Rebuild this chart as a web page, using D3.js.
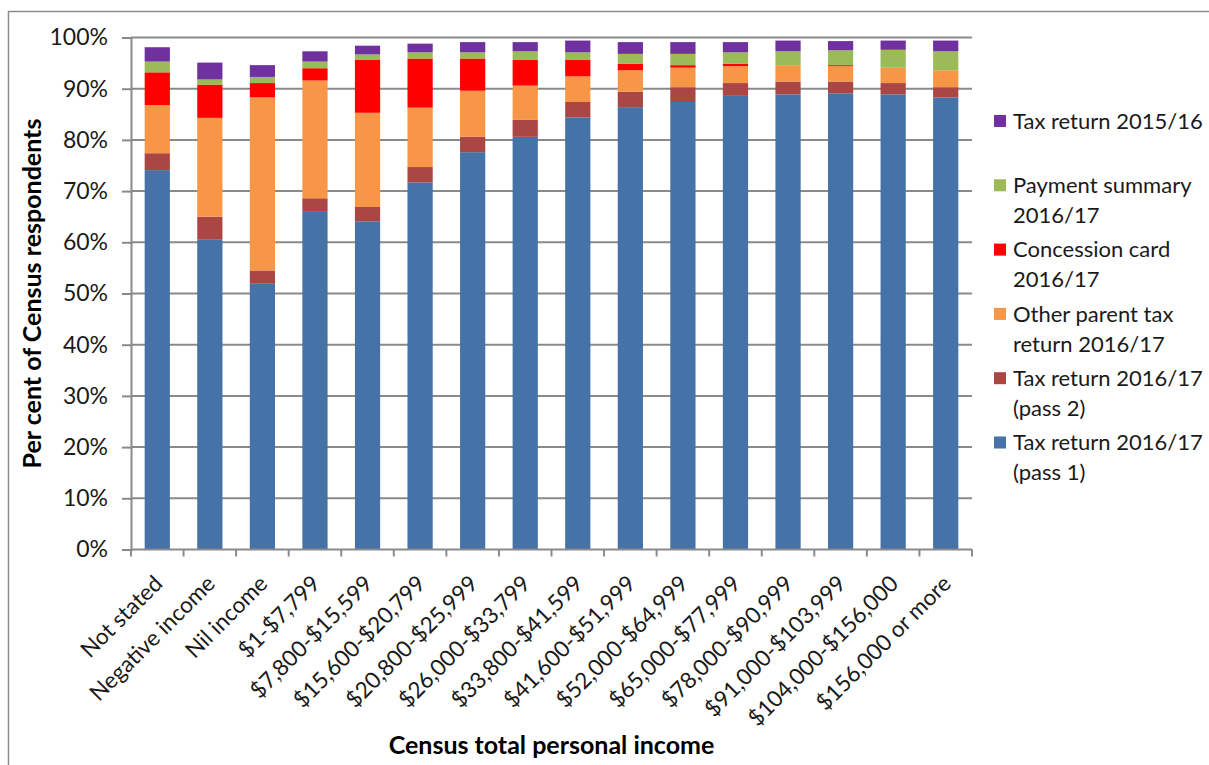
<!DOCTYPE html>
<html><head><meta charset="utf-8">
<script src="https://cdn.jsdelivr.net/npm/d3@7"></script>
<style>
html,body{margin:0;padding:0;background:#fff;}
svg{display:block;font-family:Lato,"Open Sans",sans-serif;}
</style></head>
<body>
<svg id="chart" width="1209" height="765"></svg>
<script>
const categories = ["Not stated","Negative income","Nil income","$1-$7,799","$7,800-$15,599","$15,600-$20,799","$20,800-$25,999","$26,000-$33,799","$33,800-$41,599","$41,600-$51,999","$52,000-$64,999","$65,000-$77,999","$78,000-$90,999","$91,000-$103,999","$104,000-$156,000","$156,000 or more"];
const seriesNames = ["Tax return 2016/17 (pass 1)","Tax return 2016/17 (pass 2)","Other parent tax return 2016/17","Concession card 2016/17","Payment summary 2016/17","Tax return 2015/16"];
const pass1   = [74.1,60.5,51.9,66.1,64.1,71.7,77.6,80.6,84.4,86.4,87.4,88.6,88.9,89.1,88.9,88.3];
const pass2   = [3.3,4.5,2.6,2.5,2.8,3.0,3.0,3.3,3.0,3.0,2.9,2.5,2.5,2.3,2.2,2.0];
const otherParent = [9.4,19.3,33.8,23.0,18.4,11.6,9.0,6.7,5.0,4.2,3.8,3.3,3.2,3.0,3.0,3.3];
const concession  = [6.4,6.5,2.8,2.4,10.3,9.6,6.3,5.0,3.2,1.3,0.5,0.5,0.0,0.2,0.0,0.0];
const paymentSummary = [2.1,1.0,1.2,1.3,1.1,1.2,1.2,1.7,1.5,1.9,2.2,2.2,2.7,2.9,3.5,3.7];
const taxReturn1516  = [2.8,3.3,2.3,2.0,1.7,1.7,2.0,1.8,2.3,2.3,2.3,2.0,2.1,1.8,1.8,2.1];
const yTicks = [0,10,20,30,40,50,60,70,80,90,100];
const legendLines = [["Tax return 2015/16"],["Payment summary","2016/17"],["Concession card","2016/17"],["Other parent tax","return 2016/17"],["Tax return 2016/17","(pass 2)"],["Tax return 2016/17","(pass 1)"]];
const colors = ["#4572A7","#AA4643","#F79646","#FF0000","#9BBB59","#7030A0"];
const legendColors = ["#7030A0","#9BBB59","#FF0000","#F79646","#AA4643","#4572A7"];

const seriesValues = [pass1,pass2,otherParent,concession,paymentSummary,taxReturn1516];
const rows = categories.map((c,i)=>{const r={cat:c}; seriesNames.forEach((s,k)=>r[s]=seriesValues[k][i]); return r;});
const stack = d3.stack().keys(seriesNames)(rows);

const svg = d3.select("#chart");
const pL=131, pR=972, pT=37.5, pB=549.5;
const gridColor="#8a8a8a", textColor="#1a1a1a";

// outer frame
svg.append("rect").attr("x",8.5).attr("y",11.5).attr("width",1230).attr("height",800)
  .attr("fill","none").attr("stroke","#8c8c8c").attr("stroke-width",1.5);

const x = d3.scaleBand().domain(categories).range([pL,pR]).paddingInner(0.52).paddingOuter(0.26);
const y = d3.scaleLinear().domain([0,100]).range([pB,pT]);

// gridlines
svg.append("g").selectAll("line").data(yTicks.filter(d=>d>0)).join("line")
  .attr("x1",pL).attr("x2",pR).attr("y1",d=>y(d)).attr("y2",d=>y(d))
  .attr("stroke",gridColor).attr("stroke-width",2);

// bars
svg.append("g").selectAll("g").data(stack).join("g").attr("fill",(d,i)=>colors[i])
  .selectAll("rect").data(d=>d).join("rect")
  .attr("x",d=>x(d.data.cat)).attr("width",x.bandwidth())
  .attr("y",d=>y(d[1])).attr("height",d=>Math.max(0,y(d[0])-y(d[1])));

// y axis
const yAxis = svg.append("g").attr("transform",`translate(${pL},0)`)
  .call(d3.axisLeft(y).tickValues(yTicks).tickFormat(d=>d+"%").tickSize(9).tickPadding(14));
yAxis.select(".domain").attr("stroke",gridColor).attr("stroke-width",2);
yAxis.selectAll(".tick line").attr("stroke",gridColor).attr("stroke-width",2);
yAxis.selectAll(".tick text").attr("font-family","Lato").attr("font-size",23).attr("fill",textColor);

// x axis line and ticks between categories
const step = x.step();
const bounds = d3.range(categories.length+1).map(i=>pL + i*step);
svg.append("line").attr("x1",pL).attr("x2",pR).attr("y1",pB).attr("y2",pB)
  .attr("stroke",gridColor).attr("stroke-width",2);
svg.append("g").selectAll("line").data(bounds).join("line")
  .attr("x1",d=>d).attr("x2",d=>d).attr("y1",pB).attr("y2",pB+7)
  .attr("stroke",gridColor).attr("stroke-width",2);

// x labels
svg.append("g").selectAll("text").data(categories).join("text")
  .attr("transform",d=>`translate(${x(d)+x.bandwidth()/2+1},${pB+30}) rotate(-45)`)
  .attr("text-anchor","end").attr("dy","0.35em")
  .attr("font-size",22.5).attr("fill",textColor).text(d=>d);

// axis titles
svg.append("text").attr("transform",`translate(32,${(pT+pB)/2}) rotate(-90)`)
  .attr("text-anchor","middle").attr("dy","0.35em").attr("font-weight","bold")
  .attr("font-size",25).attr("fill","#000").text("Per cent of Census respondents");
svg.append("text").attr("x",(pL+pR)/2).attr("y",745).attr("dy","0.35em")
  .attr("text-anchor","middle").attr("font-weight","bold")
  .attr("font-size",25).attr("fill","#000").text("Census total personal income");

// legend
const lg = svg.append("g");
legendLines.forEach((lines,i)=>{
  const cy = 121 + i*64.3;
  lg.append("rect").attr("x",994).attr("y",cy-6).attr("width",12).attr("height",12).attr("fill",legendColors[i]);
  lines.forEach((t,j)=>{
    lg.append("text").attr("x",1013).attr("y",cy+j*30).attr("dy","0.35em")
      .attr("font-size",22).attr("fill",textColor).text(t);
  });
});
</script>
</body></html>
